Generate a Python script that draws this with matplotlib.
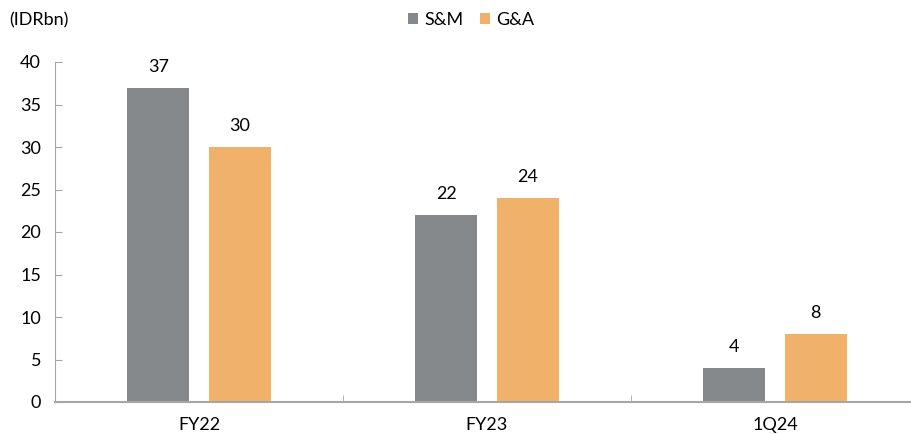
import numpy as np
import matplotlib.pyplot as plt

categories = ["FY22", "FY23", "1Q24"]
sm_values = [37, 22, 4]
ga_values = [30, 24, 8]
y_ticks = [0, 5, 10, 15, 20, 25, 30, 35, 40]

plt.rcParams['font.family'] = ['Lato', 'DejaVu Sans']

gray = '#86898B'
orange = '#F0B26B'
axis_col = '#A6A6A6'

fig = plt.figure(figsize=(9.12, 4.34), dpi=100)
ax = fig.add_axes([55 / 912, (434 - 402) / 434, 864 / 912, 340 / 434])

x = np.arange(len(categories))
w = 0.215
b1 = ax.bar(x - 0.141, sm_values, w, color=gray, label='S&M')
b2 = ax.bar(x + 0.141, ga_values, w, color=orange, label='G&A')

# value labels over each bar
for bars, vals in ((b1, sm_values), (b2, ga_values)):
    for r, v in zip(bars, vals):
        ax.text(r.get_x() + r.get_width() / 2, v + 1.5, str(v),
                ha='center', va='bottom', fontsize=13)

ax.set_xlim(-0.5, 2.5)
ax.set_ylim(0, 40)
ax.set_yticks(y_ticks)
ax.tick_params(axis='y', labelsize=13, direction='in', length=5,
               color=axis_col, pad=10)

ax.set_xticks(x)
ax.set_xticklabels(categories)
ax.tick_params(axis='x', length=0, labelsize=13, pad=11)
ax.set_xticks([0.5, 1.5], minor=True)
ax.tick_params(axis='x', which='minor', direction='in', length=5,
               color=axis_col)

for s in ('top', 'right'):
    ax.spines[s].set_visible(False)
for s in ('left', 'bottom'):
    ax.spines[s].set_color(axis_col)
ax.spines['bottom'].set_linewidth(1.5)

fig.text(9 / 912, 1 - 20 / 434, '(IDRbn)', fontsize=13, va='center')
fig.legend(loc='center', bbox_to_anchor=(471 / 912, 1 - 20 / 434), ncol=2,
           frameon=False, fontsize=13, handlelength=0.55, handleheight=0.55,
           handletextpad=0.35, columnspacing=0.9)

fig.savefig('out.png', dpi=100)
